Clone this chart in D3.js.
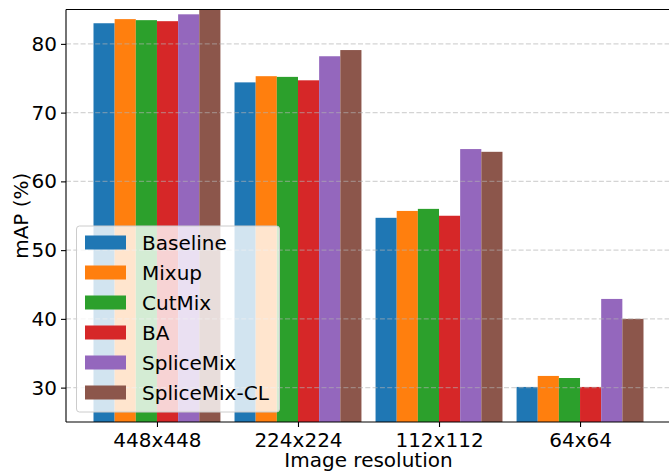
<!DOCTYPE html>
<html>
<head>
<meta charset="utf-8">
<script src="https://cdn.jsdelivr.net/npm/d3@7"></script>
<style>
  html, body { margin: 0; padding: 0; background: #fff; overflow: hidden; }
  svg { display: block; font-family: "DejaVu Sans", sans-serif; }
</style>
</head>
<body>
<svg id="chart" width="669" height="471"></svg>
<script>
const categories = ["448x448", "224x224", "112x112", "64x64"];
const seriesNames = ["Baseline", "Mixup", "CutMix", "BA", "SpliceMix", "SpliceMix-CL"];
const baseline    = [83.0, 74.4, 54.7, 30.1];
const mixup       = [83.6, 75.3, 55.7, 31.7];
const cutmix      = [83.45, 75.2, 56.0, 31.4];
const ba          = [83.3, 74.7, 55.0, 30.1];
const splicemix   = [84.3, 78.2, 64.7, 42.9];
const splicemixCL = [85.0, 79.1, 64.3, 40.0];
const yTicks = [30, 40, 50, 60, 70, 80];
const colors = ["#1f77b4", "#ff7f0e", "#2ca02c", "#d62728", "#9467bd", "#8c564b"];

const seriesValues = [baseline, mixup, cutmix, ba, splicemix, splicemixCL];

(function () {
const svg = d3.select("#chart");
const pl = 66, pr = 671, pt = 9.5, pb = 422;
const viewW = 669;
const barW = 0.15;

const x = d3.scaleLinear().domain([-0.645, 3.645]).range([pl, pr]);
const y = d3.scaleLinear().domain([25, 85]).range([pb, pt]);

svg.append("defs").append("clipPath").attr("id", "clip")
  .append("rect").attr("x", pl).attr("y", pt).attr("width", pr - pl).attr("height", pb - pt);

// bars
const barsG = svg.append("g").attr("clip-path", "url(#clip)");
seriesValues.forEach((vals, si) => {
  barsG.selectAll(null).data(vals).enter().append("rect")
    .attr("x", (d, ci) => x(ci - 0.45 + si * barW))
    .attr("width", (d, ci) => x(ci - 0.45 + (si + 1) * barW) - x(ci - 0.45 + si * barW))
    .attr("y", d => y(d))
    .attr("height", d => y(25) - y(d))
    .attr("fill", colors[si]);
});

// grid (on top of bars)
svg.append("g").selectAll("line").data(yTicks).enter().append("line")
  .attr("x1", pl).attr("x2", viewW)
  .attr("y1", d => y(d)).attr("y2", d => y(d))
  .attr("stroke", "#b0b0b0").attr("stroke-opacity", 0.55)
  .attr("stroke-width", 1.4).attr("stroke-dasharray", "5,2.3");

// axes
const yAxis = d3.axisLeft(y).tickValues(yTicks).tickSize(5).tickPadding(4);
const yg = svg.append("g").attr("transform", `translate(${pl},0)`).call(yAxis);
yg.select(".domain").remove();
yg.selectAll("text").attr("font-size", 20).attr("fill", "#000").attr("font-family", "DejaVu Sans");
yg.selectAll("line").attr("stroke", "#000").attr("stroke-width", 1.1);

const xAxis = d3.axisBottom(x).tickValues(d3.range(categories.length))
  .tickFormat(i => categories[i]).tickSize(5).tickPadding(4);
const xg = svg.append("g").attr("transform", `translate(0,${pb})`).call(xAxis);
xg.select(".domain").remove();
xg.selectAll("text").attr("font-size", 20).attr("fill", "#000").attr("font-family", "DejaVu Sans").attr("dy", "0.78em");
xg.selectAll("line").attr("stroke", "#000").attr("stroke-width", 1.1);

// spines (right spine lies beyond the visible area)
const spines = [[pl, pt, pl, pb], [pl, pb, viewW, pb], [pl, pt, viewW, pt]];
svg.append("g").selectAll("line").data(spines).enter().append("line")
  .attr("x1", d => d[0]).attr("y1", d => d[1]).attr("x2", d => d[2]).attr("y2", d => d[3])
  .attr("stroke", "#000").attr("stroke-width", 1.1);

// axis labels
svg.append("text").attr("x", (pl + pr) / 2).attr("y", 467)
  .attr("text-anchor", "middle").attr("font-size", 20).attr("fill", "#000").text("Image resolution");
svg.append("text").attr("transform", `translate(27.5,${(pt + pb) / 2}) rotate(-90)`)
  .attr("text-anchor", "middle").attr("font-size", 20).attr("fill", "#000").text("mAP (%)");

// legend
const lg = svg.append("g");
lg.append("rect").attr("x", 76.5).attr("y", 226).attr("width", 203).attr("height", 186)
  .attr("rx", 3).attr("fill", "#fff").attr("fill-opacity", 0.8)
  .attr("stroke", "#cccccc").attr("stroke-width", 1);
seriesNames.forEach((name, i) => {
  const cy = 242.5 + i * 30;
  lg.append("rect").attr("x", 85).attr("y", cy - 7).attr("width", 41).attr("height", 14).attr("fill", colors[i]);
  lg.append("text").attr("x", 142).attr("y", cy).attr("dy", "0.36em")
    .attr("font-size", 20).attr("fill", "#000").text(name);
});
})();
</script>
</body>
</html>
